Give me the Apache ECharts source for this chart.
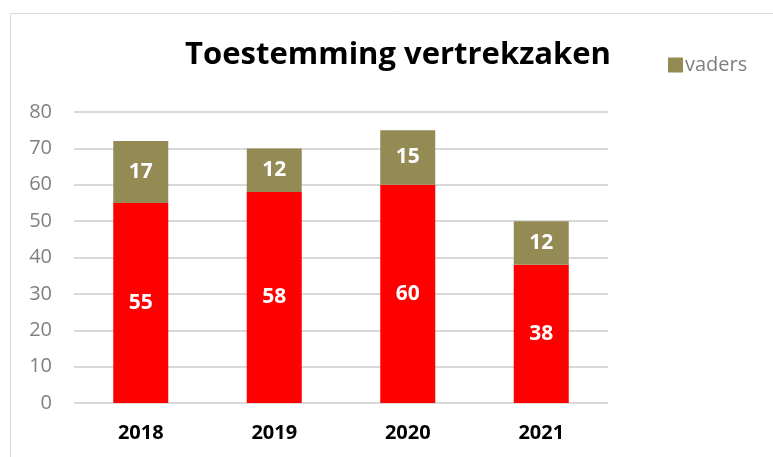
<!DOCTYPE html>
<html>
<head>
<meta charset="utf-8">
<script src="https://cdn.jsdelivr.net/npm/echarts@6/dist/echarts.min.js"></script>
<style>
html, body { margin: 0; padding: 0; background: #fff; }
#chart { width: 773px; height: 457px; }
</style>
</head>
<body>
<div id="chart"></div>
<script>
var years = ['2018', '2019', '2020', '2021'];
var moeders = [55, 58, 60, 38];
var vaders = [17, 12, 15, 12];
var yTicks = [0, 10, 20, 30, 40, 50, 60, 70, 80];

var font = '"Open Sans", Lato, sans-serif';
var chart = echarts.init(document.getElementById('chart'));

var option = {
	animation: false,
	graphic: [{
		type: 'rect',
		shape: { x: 10.5, y: 13.5, width: 800, height: 500 },
		style: { fill: 'none', stroke: '#d9d9d9', lineWidth: 1 }
	}],
	title: {
		text: 'Toestemming vertrekzaken',
		left: 393,
		textAlign: 'center',
		top: 35,
		textStyle: { fontFamily: font, fontSize: 31, fontWeight: 'bold', color: '#000' }
	},
	legend: {
		data: ['vaders'],
		left: 663,
		top: 50,
		itemWidth: 15,
		itemHeight: 15,
		itemGap: 4,
		icon: 'rect',
		textStyle: { fontFamily: font, fontSize: 20, color: '#7f7f7f', padding: [0, 0, 0, -3] }
	},
	grid: { left: 74, right: 165, top: 112, bottom: 54 },
	xAxis: {
		type: 'category',
		data: years,
		axisLine: { show: false },
		axisTick: { show: false },
		axisLabel: { fontFamily: font, fontSize: 20, fontWeight: 'bold', color: '#000', margin: 20 }
	},
	yAxis: {
		type: 'value',
		min: yTicks[0],
		max: yTicks[yTicks.length - 1],
		interval: 10,
		axisLine: { show: false },
		axisTick: { show: false },
		splitLine: { lineStyle: { color: '#d9d9d9', width: 2 } },
		axisLabel: { fontFamily: font, fontSize: 20, color: '#808080', margin: 22 }
	},
	series: [{
		name: 'moeders',
		type: 'bar',
		stack: 'totaal',
		data: moeders,
		barWidth: 55,
		itemStyle: { color: '#ff0000' },
		label: { show: true, position: 'inside', fontFamily: font, fontSize: 21, fontWeight: 'bold', color: '#fff' }
	}, {
		name: 'vaders',
		type: 'bar',
		stack: 'totaal',
		data: vaders,
		barWidth: 55,
		itemStyle: { color: '#948a54' },
		label: { show: true, position: 'inside', fontFamily: font, fontSize: 21, fontWeight: 'bold', color: '#fff' }
	}]
};
chart.setOption(option);
</script>
</body>
</html>
